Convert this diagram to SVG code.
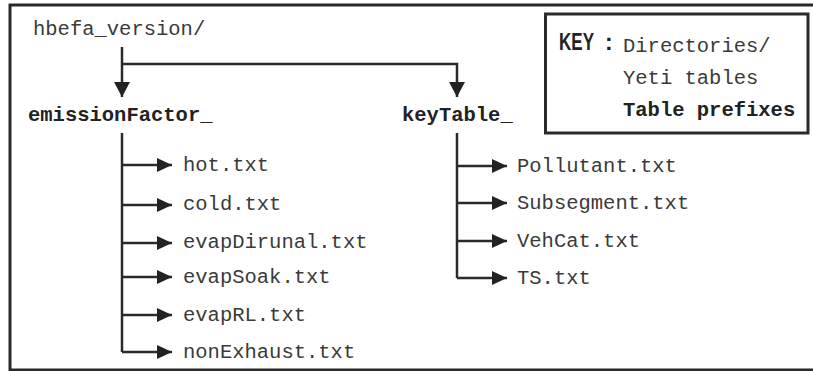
<svg xmlns="http://www.w3.org/2000/svg" width="813" height="371" viewBox="0 0 813 371">
<style>
.t{font-family:"Liberation Mono","Courier New",monospace;font-size:20.5px;fill:#3a3a3a}
.b{font-family:"Liberation Mono","Courier New",monospace;font-size:20.5px;font-weight:bold;fill:#222}
.k{font-family:"Liberation Sans Narrow","Liberation Sans",Arial,sans-serif;font-size:23px;font-weight:bold;fill:#222}
.c{fill:none;stroke:#2a2a2a;stroke-width:2.5}
.frame{fill:none;stroke:#2a2a2a;stroke-width:3}
</style>
<defs>
<marker id="ar" markerUnits="userSpaceOnUse" markerWidth="15" markerHeight="14" refX="15" refY="7" orient="auto">
<path d="M0,0 L15,7 L0,14 Z" fill="#222"/>
</marker>
<marker id="ad" markerUnits="userSpaceOnUse" markerWidth="15" markerHeight="16" refX="15" refY="8" orient="auto">
<path d="M0,0 L15,8 L0,16 Z" fill="#222"/>
</marker>
</defs>
<path class="frame" d="M813,5 H10 V370 H813"/>
<g id="root"><text class="t" x="33" y="35">hbefa_version/</text></g>
<g id="emissionFactor"><text class="b" x="28" y="121">emissionFactor_</text></g>
<g id="keyTable"><text class="b" x="402" y="121">keyTable_</text></g>
<g id="key">
<rect x="545.5" y="14" width="262.5" height="119" fill="none" stroke="#2a2a2a" stroke-width="3"/>
<text class="k" x="559" y="50" textLength="35" lengthAdjust="spacingAndGlyphs">KEY</text>
<text class="k" x="605" y="50">:</text>
<text class="t" x="623" y="52">Directories/</text>
<text class="t" x="623" y="84">Yeti tables</text>
<text class="b" x="623" y="116">Table prefixes</text>
</g>
<g id="files-ef">
<text class="t" x="183" y="171">hot.txt</text>
<text class="t" x="183" y="210">cold.txt</text>
<text class="t" x="183" y="248">evapDirunal.txt</text>
<text class="t" x="183" y="283">evapSoak.txt</text>
<text class="t" x="183" y="321">evapRL.txt</text>
<text class="t" x="183" y="358">nonExhaust.txt</text>
</g>
<g id="files-kt">
<text class="t" x="517" y="172">Pollutant.txt</text>
<text class="t" x="517" y="209">Subsegment.txt</text>
<text class="t" x="517" y="247">VehCat.txt</text>
<text class="t" x="517" y="284">TS.txt</text>
</g>
<g id="connectors">
<path class="c" d="M122,47 V97" marker-end="url(#ad)"/>
<path class="c" d="M122,64 H457 V97" marker-end="url(#ad)"/>
<path class="c" d="M122,133 V352"/>
<path class="c" d="M122,165 H172" marker-end="url(#ar)"/>
<path class="c" d="M122,205 H172" marker-end="url(#ar)"/>
<path class="c" d="M122,243 H172" marker-end="url(#ar)"/>
<path class="c" d="M122,277 H172" marker-end="url(#ar)"/>
<path class="c" d="M122,315 H172" marker-end="url(#ar)"/>
<path class="c" d="M122,352 H172" marker-end="url(#ar)"/>
<path class="c" d="M457,133 V278"/>
<path class="c" d="M457,166 H507" marker-end="url(#ar)"/>
<path class="c" d="M457,203 H507" marker-end="url(#ar)"/>
<path class="c" d="M457,241 H507" marker-end="url(#ar)"/>
<path class="c" d="M457,278 H507" marker-end="url(#ar)"/>
</g>
</svg>
